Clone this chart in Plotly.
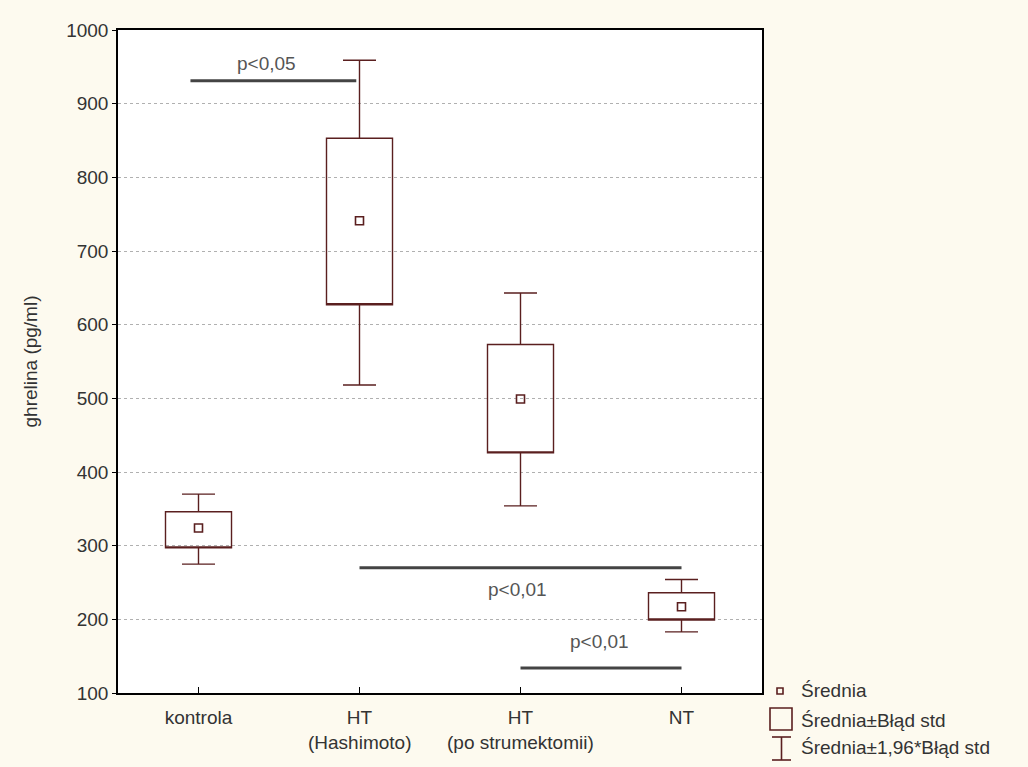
import plotly.graph_objects as go

# ---- data ----
categories = ["kontrola", "HT", "HT", "NT"]
categories_line2 = ["", "(Hashimoto)", "(po strumektomii)", ""]
positions = [0, 1, 2, 3]
means = [324, 741, 499, 217]
se_low = [297, 627, 426, 199]
se_high = [346, 853, 573, 236]
ci_low = [275, 518, 354, 183]
ci_high = [370, 959, 643, 254]

sig_labels = ["p<0,05", "p<0,01", "p<0,01"]
sig_x0 = [-0.05, 1.0, 2.0]
sig_x1 = [0.98, 3.0, 3.0]
sig_y = [931, 270, 134]
sig_text_x = [0.42, 1.98, 2.49]
sig_text_y = [955, 240, 170]

y_ticks = list(range(100, 1001, 100))

legend_labels = ["Średnia", "Średnia±Błąd std", "Średnia±1,96*Błąd std"]

# ---- style ----
BOX_COLOR = "#5a1f1f"
SIG_COLOR = "#444444"
TEXT_COLOR = "#333333"
FONT = "Liberation Sans, Arial, sans-serif"
FS = 19

L, R, T, B = 118, 266, 30, 74
W, H = 1028, 767
PW, PH = W - L - R, H - T - B


def px(x):
    return (x - L) / PW


def py(y):
    return (H - B - y) / PH


fig = go.Figure()

fig.add_trace(go.Box(
    x=positions,
    q1=se_low,
    median=se_low,
    q3=se_high,
    lowerfence=ci_low,
    upperfence=ci_high,
    width=0.41,
    whiskerwidth=0.5,
    line=dict(color=BOX_COLOR, width=1.4),
    fillcolor="rgba(0,0,0,0)",
    boxpoints=False,
    showlegend=False,
    hoverinfo="skip",
))

fig.add_trace(go.Scatter(
    x=positions, y=means, mode="markers",
    marker=dict(symbol="square-open", size=8, color=BOX_COLOR, line=dict(width=1.6, color=BOX_COLOR)),
    showlegend=False, hoverinfo="skip",
))

for x0, x1, y in zip(sig_x0, sig_x1, sig_y):
    fig.add_trace(go.Scatter(
        x=[x0, x1], y=[y, y], mode="lines",
        line=dict(color=SIG_COLOR, width=3),
        showlegend=False, hoverinfo="skip",
    ))

for t, x, y in zip(sig_labels, sig_text_x, sig_text_y):
    fig.add_annotation(x=x, y=y, text=t, showarrow=False, yanchor="middle", xanchor="center",
                       font=dict(size=FS, color="#555555", family=FONT))

for x, t in zip(positions, categories_line2):
    if t:
        fig.add_annotation(x=x, y=py(742), yref="paper", text=t, showarrow=False,
                           yanchor="middle", xanchor="center",
                           font=dict(size=FS, color=TEXT_COLOR, family=FONT))

# y-axis title
fig.add_annotation(x=px(30), y=0.5, xref="paper", yref="paper", text="ghrelina (pg/ml)",
                   textangle=-90, showarrow=False, xanchor="center", yanchor="middle",
                   font=dict(size=FS, color=TEXT_COLOR, family=FONT))

# legend (drawn manually)
LW = 1.6
shapes = [
    dict(type="rect", xref="paper", yref="paper",
         x0=px(777), x1=px(783), y0=py(694), y1=py(688),
         line=dict(color=BOX_COLOR, width=LW)),
    dict(type="rect", xref="paper", yref="paper",
         x0=px(770), x1=px(792), y0=py(730), y1=py(708),
         line=dict(color=BOX_COLOR, width=LW)),
    dict(type="line", xref="paper", yref="paper",
         x0=px(781.5), x1=px(781.5), y0=py(760), y1=py(737),
         line=dict(color=BOX_COLOR, width=LW)),
    dict(type="line", xref="paper", yref="paper",
         x0=px(772), x1=px(791), y0=py(737), y1=py(737),
         line=dict(color=BOX_COLOR, width=LW)),
    dict(type="line", xref="paper", yref="paper",
         x0=px(772), x1=px(791), y0=py(760), y1=py(760),
         line=dict(color=BOX_COLOR, width=LW)),
]
for t, y in zip(legend_labels, [690, 720, 747]):
    fig.add_annotation(x=px(799), y=py(y), xref="paper", yref="paper", text=t,
                       xanchor="left", yanchor="middle", showarrow=False,
                       font=dict(size=FS, color=TEXT_COLOR, family=FONT))

fig.update_layout(
    width=W, height=H,
    margin=dict(l=L, r=R, t=T, b=B, autoexpand=False),
    paper_bgcolor="#fdfaef",
    plot_bgcolor="white",
    shapes=shapes,
    font=dict(family=FONT, size=FS, color=TEXT_COLOR),
    xaxis=dict(
        range=[-0.5, 3.5], tickvals=positions, ticktext=categories,
        showgrid=False, zeroline=False,
        showline=True, mirror=True, linecolor="black", linewidth=1.5,
        ticks="inside", ticklen=6, tickcolor="black",
        ticklabelstandoff=6,
        tickfont=dict(size=FS, color=TEXT_COLOR),
    ),
    yaxis=dict(
        range=[100, 1000], tickvals=y_ticks,
        showgrid=True, gridcolor="#b0b0b0", griddash="dot", gridwidth=1,
        zeroline=False,
        showline=True, mirror=True, linecolor="black", linewidth=1.5,
        ticks="outside", ticklen=4, tickcolor="black",
        tickfont=dict(size=FS, color=TEXT_COLOR),
    ),
)

fig.write_html("out.html")
